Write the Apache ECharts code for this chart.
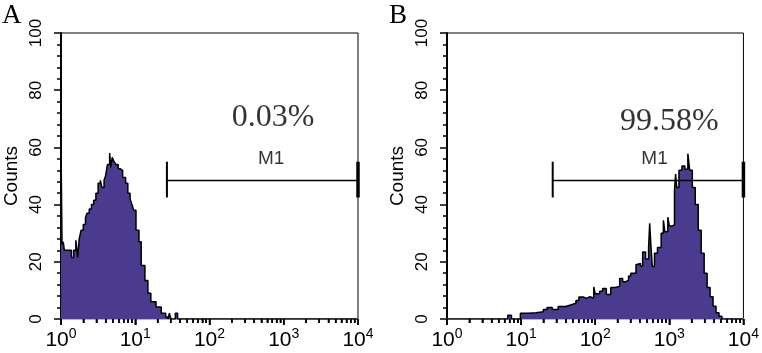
<!DOCTYPE html>
<html>
<head>
<meta charset="utf-8">
<script src="https://cdn.jsdelivr.net/npm/echarts@6/dist/echarts.min.js"></script>
<style>
html,body{margin:0;padding:0;background:#fff;}
#c{width:762px;height:353px;}
</style>
</head>
<body>
<div id="c"></div>
<script>
// ---- data (x in decades of fluorescence intensity, y = counts) ----
const decadesA = [0, 0.014, 0.03, 0.045, 0.10, 0.14, 0.17, 0.20, 0.225, 0.245, 0.27, 0.30, 0.33, 0.35, 0.38, 0.41, 0.44, 0.47, 0.50, 0.53, 0.55, 0.58, 0.60, 0.625, 0.655, 0.67, 0.69, 0.715, 0.74, 0.77, 0.80, 0.83, 0.87, 0.90, 0.93, 0.955, 0.98, 1.01, 1.05, 1.08, 1.13, 1.17, 1.21, 1.28, 1.35, 1.41, 1.44, 1.46, 1.48, 1.54, 1.57, 4];
const countsA  = [60, 26, 27, 24, 24, 21.5, 24, 27.5, 21.5, 28, 31, 33, 35.5, 37, 38.5, 40, 41.5, 44, 47.5, 48.5, 46, 48.5, 50, 54, 58, 53, 56.5, 55, 54, 52.5, 52, 49.5, 47.5, 44, 42, 40, 38, 31, 27, 18.7, 13.5, 9, 6, 4.2, 2, 0.7, 0, 2, 0, 2, 0, 0];

const decadesB = [0, 0.82, 0.87, 0.99, 1.10, 1.20, 1.30, 1.35, 1.42, 1.50, 1.60, 1.68, 1.74, 1.78, 1.84, 1.88, 1.93, 1.98, 2.00, 2.06, 2.10, 2.15, 2.21, 2.27, 2.33, 2.37, 2.41, 2.45, 2.48, 2.55, 2.57, 2.61, 2.64, 2.68, 2.72, 2.735, 2.75, 2.77, 2.80, 2.84, 2.89, 2.92, 2.94, 2.98, 3.00, 3.04, 3.07, 3.085, 3.10, 3.13, 3.17, 3.21, 3.25, 3.275, 3.31, 3.35, 3.39, 3.43, 3.47, 3.51, 3.55, 3.59, 3.63, 3.67, 3.71, 4];
const countsB  = [0, 1.3, 0, 2, 2.2, 2.5, 3.3, 4, 3.3, 4.4, 5, 5.5, 6.5, 7.7, 7.2, 7.8, 7.3, 11.2, 8.8, 9.7, 10.7, 8.6, 11, 11.4, 14.2, 13, 13.6, 15, 16, 19, 19.4, 18.5, 23.4, 21, 24.8, 33.5, 26.4, 18.4, 23, 25, 30, 34.5, 30.5, 35.6, 32.5, 33, 45, 50.7, 46, 52, 53.5, 52.4, 57.8, 52, 46, 40, 31, 23, 16, 11, 7.8, 4.5, 2.2, 1, 0, 0];

const xMajorTicks = [1, 10, 100, 1000, 10000];
const xMinorTicks = [2,3,4,5,6,7,8,9, 20,30,40,50,60,70,80,90, 200,300,400,500,600,700,800,900, 2000,3000,4000,5000,6000,7000,8000,9000];

const panelLetters = ['A', 'B'];
const percentTexts = ['0.03%', '99.58%'];
const percentAnchors = [[716, 70.4], [1000, 69]];
const markerName = 'M1';
const markerNameAnchors = [[675, 56], [631, 56]];
const markerStart = 26.7, markerEnd = 10000, markerLevel = 48.4;
const markerTickTop = 55, markerTickBottom = 42.5;

// ---- build ----
const toPairs = (dec, cnt) => dec.map((d, i) => [Math.pow(10, d), cnt[i]]);
const dataSets = [toPairs(decadesA, countsA), toPairs(decadesB, countsB)];

const sans = 'Liberation Sans, Arial, sans-serif';
const serif = 'Liberation Serif, Times New Roman, serif';

const grids = [
  {left: 61, top: 33, width: 297, height: 286, show: true, borderColor: '#000', borderWidth: 1, backgroundColor: '#fff'},
  {left: 447, top: 33, width: 300, height: 286, show: true, borderColor: '#000', borderWidth: 1, backgroundColor: '#fff'}
];

const xAxes = [], yAxes = [], series = [];
for (let g = 0; g < 2; g++) {
  xAxes.push({
    gridIndex: g, type: 'log', logBase: 10, min: 1, max: 10000, position: 'bottom',
    axisLine: {show: true, onZero: false, lineStyle: {color: '#b9b2d4', width: 2}},
    axisTick: {show: true, length: 6, lineStyle: {color: '#000', width: 1.5}},
    minorTick: {show: true, splitNumber: 9, length: 4, lineStyle: {color: '#000', width: 1.5}},
    splitLine: {show: false},
    axisLabel: {
      show: true, margin: 8,
      formatter: v => '{b|10}{s|' + Math.round(Math.log10(v)) + '}',
      rich: {
        b: {fontFamily: sans, fontSize: 21, color: '#000', lineHeight: 24, verticalAlign: 'bottom'},
        s: {fontFamily: sans, fontSize: 14, color: '#000', lineHeight: 24, verticalAlign: 'top'}
      }
    }
  });
  yAxes.push({
    gridIndex: g, type: 'value', min: 0, max: 100, interval: 20,
    name: 'Counts', nameLocation: 'middle', nameGap: 40, nameRotate: 90,
    nameTextStyle: {fontFamily: sans, fontSize: 19, color: '#000'},
    axisLine: {show: true, lineStyle: {color: '#000', width: 2}},
    axisTick: {show: true, length: 7, lineStyle: {color: '#000', width: 1.5}},
    minorTick: {show: true, splitNumber: 5, length: 4, lineStyle: {color: '#000', width: 1.5}},
    splitLine: {show: false},
    axisLabel: {rotate: 90, margin: 16, fontFamily: sans, fontSize: 17, color: '#000'}
  });
  series.push({
    type: 'line', xAxisIndex: g, yAxisIndex: g, step: 'end', symbol: 'none',
    data: dataSets[g],
    lineStyle: {color: '#000', width: 1.5},
    areaStyle: {color: '#4a3b8f', opacity: 1},
    z: 3, silent: true
  });
  const lineCommon = {type: 'line', xAxisIndex: g, yAxisIndex: g, symbol: 'none', silent: true, z: 6};
  series.push(Object.assign({}, lineCommon, {data: [[markerStart, markerLevel], [markerEnd, markerLevel]], lineStyle: {color: '#000', width: 1.5}}));
  series.push(Object.assign({}, lineCommon, {data: [[markerStart, markerTickTop], [markerStart, markerTickBottom]], lineStyle: {color: '#000', width: 2}}));
  series.push(Object.assign({}, lineCommon, {data: [[markerEnd, markerTickTop], [markerEnd, markerTickBottom]], lineStyle: {color: '#000', width: 3.5}}));
  series.push({
    type: 'scatter', xAxisIndex: g, yAxisIndex: g, symbolSize: 1, silent: true, z: 7,
    itemStyle: {color: 'rgba(0,0,0,0)'},
    data: [markerNameAnchors[g]],
    label: {show: true, position: 'inside', formatter: markerName, fontFamily: sans, fontSize: 19, color: '#000'}
  });
  series.push({
    type: 'scatter', xAxisIndex: g, yAxisIndex: g, symbolSize: 1, silent: true, z: 7,
    itemStyle: {color: 'rgba(0,0,0,0)'},
    data: [percentAnchors[g]],
    label: {show: true, position: 'inside', formatter: percentTexts[g], fontFamily: serif, fontSize: 32, color: '#000'}
  });
}

const chart = echarts.init(document.getElementById('c'), null, {renderer: 'canvas'});
chart.setOption({
  animation: false,
  backgroundColor: '#fff',
  title: [
    {text: panelLetters[0], left: 0, top: 0, textStyle: {fontFamily: serif, fontSize: 27, fontWeight: 'normal', color: '#000'}, padding: 2},
    {text: panelLetters[1], left: 387, top: 0, textStyle: {fontFamily: serif, fontSize: 27, fontWeight: 'normal', color: '#000'}, padding: 2}
  ],
  grid: grids,
  xAxis: xAxes,
  yAxis: yAxes,
  series: series
});

// x-axis tick marks, positioned through the axis scale of each panel
const tickGraphics = [];
for (let g = 0; g < 2; g++) {
  const finder = {xAxisIndex: g, yAxisIndex: g};
  [[xMajorTicks, 6], [xMinorTicks, 4]].forEach(([vals, len]) => {
    vals.forEach(v => {
      const p = chart.convertToPixel(finder, [v, 0]);
      if (!p || !isFinite(p[0]) || !isFinite(p[1])) return;
      tickGraphics.push({
        type: 'line', z: 100, silent: true,
        shape: {x1: p[0], y1: p[1], x2: p[0], y2: p[1] + len},
        style: {stroke: '#000', lineWidth: 1.5}
      });
    });
  });
}
chart.setOption({graphic: tickGraphics});
</script>
</body>
</html>
